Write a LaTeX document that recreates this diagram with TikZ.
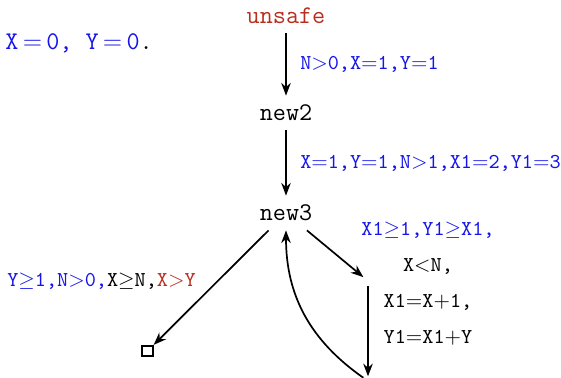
\documentclass[tikz,border=0pt]{standalone}
\usepackage{amsmath,amssymb}
\usepackage{xcolor}
\usepackage{tikz}
\usetikzlibrary{arrows.meta, positioning}

\definecolor{guardblue}{RGB}{20,20,235}
\definecolor{unsafered}{RGB}{185,45,30}

\tikzset{
  state/.style={font=\large\ttfamily, minimum height=16pt, inner sep=2pt},
  hop/.style={-{Stealth[length=6pt,width=4.5pt]}, thick},
  guard/.style={font=\ttfamily, text=guardblue, anchor=west, xshift=3pt},
}

\begin{document}
\begin{tikzpicture}[x=0.472pt, y=-0.472pt]
  \useasboundingbox (0,0) rectangle (561,377);
  % initial condition
  \node[font=\large\ttfamily, anchor=west, inner sep=0pt] (init) at (5,43)
    {\textcolor{guardblue}{X\,$=$\,0, Y\,$=$\,0}.};
  % states of the unfolding
  \node[state, text=unsafered] (unsafe) at (286,16) {unsafe};
  \node[state] (new2) at (286,113) {new2};
  \node[state] (new3) at (286,213) {new3};
  \node[draw, thick, minimum size=5pt, inner sep=0pt] (box) at (147.5,351) {};
  \node[inner sep=2pt] (mid) at (368,281) {};
  \node[inner sep=2pt] (bot) at (368,381) {};
  % transitions
  \draw[hop] (unsafe) -- (new2) node[midway, guard] {N$>$0,X$=$1,Y$=$1};
  \draw[hop] (new2) -- (new3) node[midway, guard] {X$=$1,Y$=$1,N$>$1,X1$=$2,Y1$=$3};
  \draw[hop] (new3) -- (box);
  \draw[hop] (new3) -- (mid);
  \draw[hop] (mid) -- (bot);
  \draw[hop] (bot) to[out=145, in=-90] (new3.south);
  % guards of the branches
  \node[font=\ttfamily] (lguard) at (101.5,281)
    {\textcolor{guardblue}{Y$\geq$1,N$>$0,}X$\geq$N,\textcolor{unsafered}{X$>$Y}};
  \node[font=\ttfamily, align=center] (rguard) at (428,284)
    {\textcolor{guardblue}{X1$\geq$1,Y1$\geq$X1,}\\[5pt]
     X$<$N,\\[5pt]
     X1$=$X$+$1,\\[5pt]
     Y1$=$X1$+$Y};
\end{tikzpicture}
\end{document}
